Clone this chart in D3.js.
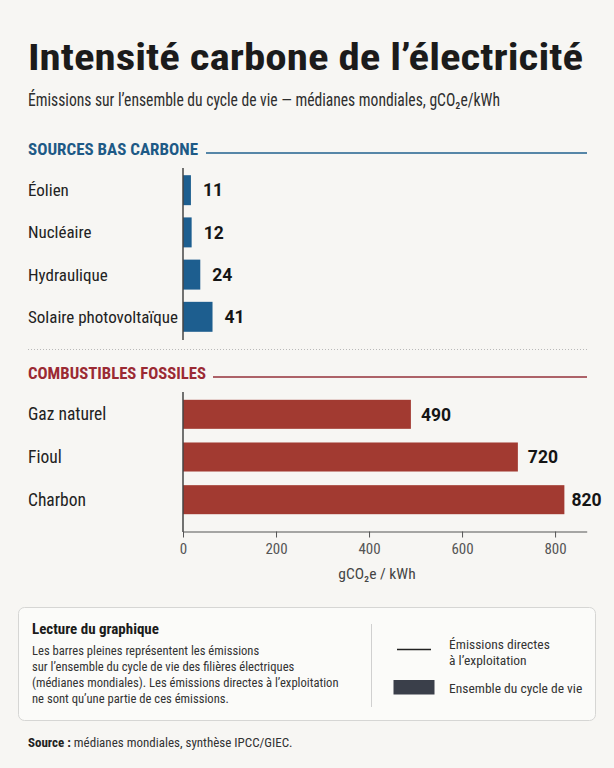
<!DOCTYPE html>
<html>
<head>
<meta charset="utf-8">
<script src="https://cdn.jsdelivr.net/npm/d3@7"></script>
<style>
  html, body { margin: 0; padding: 0; background: #f7f6f3; }
  svg { display: block; }
  .narrow { font-family: 'Liberation Sans Narrow', 'Arial Narrow', 'Roboto Condensed', 'DejaVu Sans Condensed', sans-serif; }
  .roboto { font-family: Roboto, 'Liberation Sans', sans-serif; }
</style>
</head>
<body>
<script>
// ---- Data ----
const lowCats = ["Éolien", "Nucléaire", "Hydraulique", "Solaire photovoltaïque"];
const lowVals = [11, 12, 24, 41];
const fosCats = ["Gaz naturel", "Fioul", "Charbon"];
const fosVals = [490, 720, 820];
const xTicks = [0, 200, 400, 600, 800];
const titleText = "Intensité carbone de l’électricité";
const subtitleText = "Émissions sur l’ensemble du cycle de vie — médianes mondiales, gCO₂e/kWh";
const lowHeader = "SOURCES BAS CARBONE";
const fosHeader = "COMBUSTIBLES FOSSILES";
const axisTitle = "gCO₂e / kWh";
const noteTitle = "Lecture du graphique";
const noteLines = [
  "Les barres pleines représentent les émissions",
  "sur l’ensemble du cycle de vie des filières électriques",
  "(médianes mondiales). Les émissions directes à l’exploitation",
  "ne sont qu’une partie de ces émissions."
];
const legendItems = [
  { type: "line", lines: ["Émissions directes", "à l’exploitation"] },
  { type: "rect", lines: ["Ensemble du cycle de vie"] }
];
const sourceBold = "Source :";
const sourceText = " médianes mondiales, synthèse IPCC/GIEC.";

// ---- Style ----
const W = 614, H = 768;
const blue = "#1d5e8f", red = "#a23a31";
const blueHead = "#1e5a86", redHead = "#9b2a33";
const axisX0 = 183;

const svg = d3.select("body").append("svg").attr("width", W).attr("height", H);
svg.append("rect").attr("width", W).attr("height", H).attr("fill", "#f7f6f3");

// Title
svg.append("text").attr("class", "narrow").attr("x", 28).attr("y", 70)
  .attr("font-size", 37).attr("font-weight", 700).attr("fill", "#1b1b1b")
  .attr("textLength", 555).attr("lengthAdjust", "spacingAndGlyphs")
  .text(titleText);
svg.append("text").attr("class", "narrow").attr("x", 28).attr("y", 106)
  .attr("font-size", 17.5).attr("fill", "#2e2e2e")
  .attr("textLength", 472).attr("lengthAdjust", "spacingAndGlyphs")
  .text(subtitleText);

// Section headers
function header(text, y, color, lineColor, lineStart, len) {
  svg.append("text").attr("class", "narrow").attr("x", 28).attr("y", y)
    .attr("font-size", 17).attr("font-weight", 700).attr("fill", color)
    .attr("textLength", len).attr("lengthAdjust", "spacingAndGlyphs")
    .text(text);
  svg.append("line").attr("x1", lineStart).attr("x2", 587).attr("y1", y - 2).attr("y2", y - 2)
    .attr("stroke", lineColor).attr("stroke-width", 1.4);
}
header(lowHeader, 155, blueHead, "#21608e", 206, 170);
header(fosHeader, 379, redHead, "#94303a", 213, 178);

// Dotted separator
svg.append("line").attr("x1", 28).attr("x2", 587).attr("y1", 349.5).attr("y2", 349.5)
  .attr("stroke", "#b9b9b9").attr("stroke-width", 1).attr("stroke-dasharray", "1,2");

// Scales
const xLow = d3.scaleLinear().domain([0, 50]).range([axisX0, axisX0 + 36]);
const xFos = d3.scaleLinear().domain([0, 868]).range([axisX0, 586.7]);
const yLow = d3.scaleBand().domain(lowCats).range([169, 338]).paddingInner(0.29).paddingOuter(0.147);
const yFos = d3.scaleBand().domain(fosCats).range([387, 527]).paddingInner(0.32).paddingOuter(0.3);

// Low-carbon bars
const gLow = svg.append("g");
gLow.selectAll("rect").data(lowCats).join("rect")
  .attr("x", axisX0).attr("y", d => yLow(d))
  .attr("width", (d, i) => xLow(lowVals[i]) - axisX0)
  .attr("height", yLow.bandwidth()).attr("fill", blue);
gLow.selectAll("text.cat").data(lowCats).join("text").attr("class", "cat narrow")
  .attr("x", 28).attr("y", d => yLow(d) + yLow.bandwidth() / 2).attr("dy", "0.35em")
  .attr("font-size", 17).attr("fill", "#222").text(d => d);
gLow.selectAll("text.val").data(lowCats).join("text").attr("class", "val roboto")
  .attr("x", (d, i) => xLow(lowVals[i]) + 12).attr("y", d => yLow(d) + yLow.bandwidth() / 2).attr("dy", "0.36em")
  .attr("font-size", 17.5).attr("font-weight", 700).attr("fill", "#151515").text((d, i) => lowVals[i]);
svg.append("line").attr("x1", axisX0).attr("x2", axisX0).attr("y1", 168).attr("y2", 340)
  .attr("stroke", "#444").attr("stroke-width", 1.5);

// Fossil bars
const gFos = svg.append("g");
gFos.selectAll("rect").data(fosCats).join("rect")
  .attr("x", axisX0).attr("y", d => yFos(d))
  .attr("width", (d, i) => xFos(fosVals[i]) - axisX0)
  .attr("height", yFos.bandwidth()).attr("fill", red);
gFos.selectAll("text.cat").data(fosCats).join("text").attr("class", "cat narrow")
  .attr("x", 28).attr("y", d => yFos(d) + yFos.bandwidth() / 2).attr("dy", "0.35em")
  .attr("font-size", 17.5).attr("fill", "#222").text(d => d);
gFos.selectAll("text.val").data(fosCats).join("text").attr("class", "val roboto")
  .attr("x", (d, i) => xFos(fosVals[i]) + (i === 2 ? 7 : 10)).attr("y", d => yFos(d) + yFos.bandwidth() / 2).attr("dy", "0.36em")
  .attr("font-size", 17.5).attr("font-weight", 700).attr("fill", "#151515").text((d, i) => fosVals[i]);
svg.append("line").attr("x1", axisX0).attr("x2", axisX0).attr("y1", 392).attr("y2", 532)
  .attr("stroke", "#444").attr("stroke-width", 1.5);

// X axis
const xAxis = svg.append("g").attr("transform", "translate(0,531.5)")
  .call(d3.axisBottom(xFos).tickValues(xTicks).tickSize(6).tickSizeOuter(0).tickPadding(6));
xAxis.select(".domain").attr("stroke", "#555").attr("stroke-width", 1.2);
xAxis.selectAll(".tick line").attr("stroke", "#555");
xAxis.selectAll(".tick text").attr("class", "narrow").attr("font-size", 15).attr("fill", "#555")
  .attr("font-family", null);
svg.append("text").attr("class", "narrow").attr("x", 377).attr("y", 579).attr("text-anchor", "middle")
  .attr("font-size", 15.5).attr("fill", "#444").text(axisTitle);

// Note / legend box
svg.append("rect").attr("x", 18.5).attr("y", 607.5).attr("width", 577).attr("height", 113).attr("rx", 6)
  .attr("fill", "#fbfbf9").attr("stroke", "#d6d6d4").attr("stroke-width", 1);
svg.append("text").attr("class", "narrow").attr("x", 32).attr("y", 634)
  .attr("font-size", 15).attr("font-weight", 700).attr("fill", "#1b1b1b").text(noteTitle);
svg.append("g").selectAll("text").data(noteLines).join("text").attr("class", "narrow")
  .attr("x", 32).attr("y", (d, i) => 655 + i * 16).attr("font-size", 12.6).attr("fill", "#333").text(d => d);
svg.append("line").attr("x1", 371.5).attr("x2", 371.5).attr("y1", 624).attr("y2", 707)
  .attr("stroke", "#d0d0d0").attr("stroke-width", 1);
// legend items
svg.append("line").attr("x1", 397).attr("x2", 431).attr("y1", 649.5).attr("y2", 649.5)
  .attr("stroke", "#222").attr("stroke-width", 1.3);
svg.append("rect").attr("x", 393.5).attr("y", 680).attr("width", 41).attr("height", 14.5).attr("fill", "#3a3f4a");
const legY = [[648.5, 664.5], [692.5]];
legendItems.forEach((it, k) => {
  it.lines.forEach((ln, j) => {
    svg.append("text").attr("class", "narrow").attr("x", 449).attr("y", legY[k][j])
      .attr("font-size", 13.5).attr("fill", "#333").text(ln);
  });
});

// Source
const src = svg.append("text").attr("class", "narrow").attr("x", 28).attr("y", 747).attr("font-size", 13).attr("fill", "#222");
src.append("tspan").attr("font-weight", 700).text(sourceBold);
src.append("tspan").attr("fill", "#333").text(sourceText);
</script>
</body>
</html>
